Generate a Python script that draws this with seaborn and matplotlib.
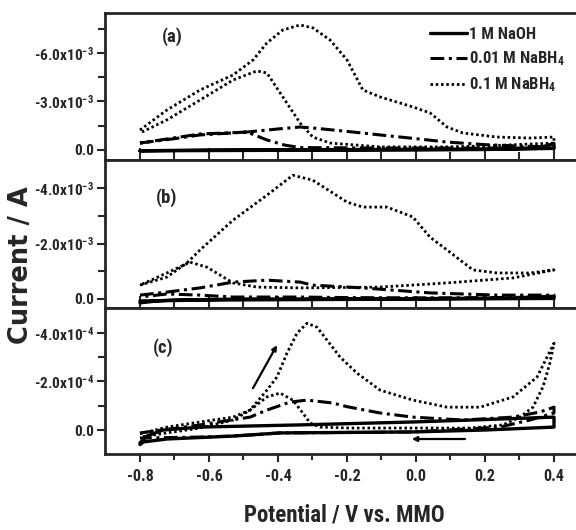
import numpy as np
import matplotlib
matplotlib.use("Agg")
import matplotlib.pyplot as plt
from matplotlib import font_manager as fm
from matplotlib.ticker import FixedLocator
import seaborn as sns

# ── Setup ──────────────────────────────────────────────────────────────────────
sns.set_style("ticks")

# the original uses a narrow bold sans; take one if the machine has it
names = {f.name for f in fm.fontManager.ttflist}
narrow = next((n for n in ["Liberation Sans Narrow", "Arial Narrow", "Roboto Condensed",
                           "Open Sans Condensed", "Noto Sans Condensed", "DejaVu Sans Condensed"]
               if n in names), None)
stretch = "normal"
if narrow is None:
    cond = [f for f in fm.fontManager.ttflist
            if f.stretch in ("condensed", "semi-condensed", "extra-condensed")]
    if cond:
        narrow = cond[0].name
        stretch = cond[0].stretch
base = narrow if narrow else "Liberation Sans"
tick_fs = 11 if narrow else 9.5

plt.rcParams["font.family"] = [base, "Liberation Sans", "DejaVu Sans"]
plt.rcParams["font.stretch"] = stretch
plt.rcParams["font.weight"] = "bold"
plt.rcParams["mathtext.fontset"] = "custom"
plt.rcParams["mathtext.bf"] = base + ":bold"
plt.rcParams["mathtext.rm"] = base + ":bold"
plt.rcParams["mathtext.default"] = "bf"

# ── Data (potential in V vs. MMO, current scaled per panel) ────────────────────
labels = ["1 M NaOH", "0.01 M NaBH$_4$", "0.1 M NaBH$_4$"]

# panel (a), current in 1e-3 A
a_naoh_E = [-0.8, -0.6, -0.3, 0.0, 0.2, 0.35, 0.4, 0.4, 0.2, 0.0, -0.4, -0.8]
a_naoh_I = [0.05, 0.0, -0.02, -0.04, -0.06, -0.1, -0.4, -0.1, -0.03, 0.0, 0.02, 0.05]
a_b01_E = [-0.8, -0.7, -0.626, -0.49, -0.40, -0.336, -0.299, -0.2, -0.104, 0.0, 0.09, 0.2, 0.3, 0.4,
           0.4, 0.3, 0.09, -0.1, -0.336, -0.38, -0.432, -0.49, -0.55, -0.626, -0.7, -0.8]
a_b01_I = [-0.43, -0.70, -0.93, -1.11, -1.30, -1.42, -1.36, -1.15, -0.93, -0.70, -0.49, -0.33, -0.24, -0.19,
           -0.12, -0.12, -0.12, -0.12, -0.15, -0.30, -0.62, -1.11, -1.05, -0.99, -0.75, -0.43]
a_b1_E = [-0.8, -0.722, -0.626, -0.53, -0.472, -0.432, -0.386, -0.336, -0.299, -0.249, -0.2, -0.154,
          -0.104, -0.009, 0.041, 0.09, 0.136, 0.235, 0.33, 0.4,
          0.4, 0.2, 0.09, -0.104, -0.249, -0.299, -0.336, -0.386, -0.432, -0.461, -0.53, -0.626, -0.722, -0.8]
a_b1_I = [-1.24, -2.47, -3.71, -4.64, -5.57, -6.62, -7.42, -7.73, -7.55, -6.80, -5.57, -3.71,
          -3.28, -2.66, -2.29, -1.42, -1.05, -0.80, -0.74, -0.80,
          -0.43, -0.25, -0.19, -0.19, -0.43, -0.80, -1.67, -3.28, -4.76, -4.89, -4.33, -3.09, -1.86, -1.05]

# panel (b), current in 1e-3 A
b_naoh_E = [-0.8, -0.75, -0.704, -0.5, -0.2, 0.1, 0.3, 0.4, 0.4, 0.1, -0.3, -0.6, -0.8]
b_naoh_I = [0.14, 0.07, 0.04, 0.0, 0.0, -0.02, -0.04, -0.1, -0.02, 0.0, 0.02, 0.04, 0.07]
b_b01_E = [-0.8, -0.722, -0.626, -0.53, -0.432, -0.336, -0.299, -0.154, 0.041, 0.235, 0.4,
           0.4, 0.2, 0.04, -0.2, -0.336, -0.53, -0.626, -0.722, -0.8]
b_b01_I = [-0.14, -0.25, -0.40, -0.61, -0.68, -0.61, -0.50, -0.40, -0.22, -0.14, -0.14,
           -0.07, -0.05, -0.04, -0.05, -0.07, -0.07, -0.14, -0.18, -0.07]
b_b1_E = [-0.8, -0.722, -0.664, -0.626, -0.53, -0.432, -0.357, -0.299, -0.2, -0.154, -0.084, -0.009,
          0.041, 0.09, 0.165, 0.235, 0.33, 0.4,
          0.4, 0.281, 0.09, -0.104, -0.336, -0.461, -0.53, -0.606, -0.655, -0.722, -0.8]
b_b1_I = [-0.50, -0.79, -1.30, -1.77, -2.85, -3.75, -4.47, -4.29, -3.50, -3.32, -3.32, -2.96,
          -2.23, -1.77, -1.05, -0.94, -0.94, -1.05,
          -1.05, -0.76, -0.58, -0.43, -0.40, -0.43, -0.58, -1.15, -1.33, -0.94, -0.50]

# panel (c), current in 1e-4 A
c_naoh_E = [-0.8, -0.78, -0.733, -0.626, -0.336, -0.009, 0.2, 0.4,
            0.4, 0.2, -0.009, -0.394, -0.53, -0.722, -0.79, -0.8]
c_naoh_I = [0.53, 0.25, 0.0, -0.12, -0.21, -0.33, -0.43, -0.53,
            -0.12, 0.0, 0.08, 0.12, 0.25, 0.37, 0.49, 0.6]
c_b01_E = [-0.8, -0.626, -0.481, -0.432, -0.365, -0.316, -0.241, -0.2, -0.104, -0.009, 0.136, 0.281, 0.359, 0.4,
           0.4, 0.33, 0.243, -0.009, -0.394, -0.53, -0.626, -0.8]
c_b01_I = [0.12, -0.21, -0.53, -0.82, -1.15, -1.23, -1.11, -0.96, -0.70, -0.53, -0.41, -0.53, -0.74, -0.94,
           -0.70, -0.41, -0.12, 0.08, 0.12, 0.25, 0.29, 0.33]
c_b1_E = [-0.8, -0.722, -0.626, -0.53, -0.481, -0.432, -0.403, -0.374, -0.345, -0.316, -0.287, -0.258,
          -0.22, -0.171, -0.104, -0.009, 0.09, 0.186, 0.281, 0.351, 0.4,
          0.4, 0.388, 0.368, 0.339, 0.301, 0.252, 0.157, 0.012, -0.191, -0.278, -0.307, -0.328, -0.357,
          -0.394, -0.432, -0.481, -0.53, -0.626, -0.722, -0.8]
c_b1_I = [0.16, -0.12, -0.33, -0.53, -0.82, -1.64, -2.18, -3.16, -3.98, -4.39, -4.23, -3.70,
          -3.00, -2.34, -1.64, -1.23, -0.94, -0.94, -1.36, -2.18, -3.57,
          -3.57, -2.75, -1.77, -0.94, -0.53, -0.21, -0.08, -0.08, -0.08, -0.12, -0.29, -0.70, -1.23,
          -1.52, -1.36, -0.82, -0.41, -0.08, 0.12, 0.29]

# scan direction arrows in panel (c): (start E, start I, end E, end I), I in 1e-4 A
arrow_up = [-0.4725, -1.72, -0.403, -3.49]
arrow_back = [0.142, 0.37, -0.012, 0.37]

panels = [
    dict(tag="(a)", scale=1e-3, exp=-3, curves=[(a_naoh_E, a_naoh_I), (a_b01_E, a_b01_I), (a_b1_E, a_b1_I)],
         ylim=(0.619, -8.47), major=[0.0, -3.0, -6.0], minor=[-1.5, -4.5, -7.5], tagpos=(-0.707, -6.99)),
    dict(tag="(b)", scale=1e-3, exp=-3, curves=[(b_naoh_E, b_naoh_I), (b_b01_E, b_b01_I), (b_b1_E, b_b1_I)],
         ylim=(0.325, -5.02), major=[0.0, -2.0, -4.0], minor=[-1.0, -3.0], tagpos=(-0.722, -3.68)),
    dict(tag="(c)", scale=1e-4, exp=-4, curves=[(c_naoh_E, c_naoh_I), (c_b01_E, c_b01_I), (c_b1_E, c_b1_I)],
         ylim=(0.987, -5.02), major=[0.0, -2.0, -4.0], minor=[-1.0, -3.0], tagpos=(-0.733, -3.37)),
]

styles = [dict(linestyle="-", linewidth=2.4),
          dict(linestyle=(0, (4.5, 1.5, 1, 1.5)), linewidth=2.2),
          dict(linestyle=(0, (0.9, 1.0)), linewidth=2.0)]

# ── Figure ─────────────────────────────────────────────────────────────────────
fig = plt.figure(figsize=(5.76, 5.30), dpi=100)
left = 105 / 576
boxes = [(0.6981, 0.2774), (0.4189, 0.2792), (0.1434, 0.2755)]

for k, (p, (b0, h)) in enumerate(zip(panels, boxes)):
    ax = fig.add_axes([left, b0, 1 - left, h])
    for (E, I), st, lab in zip(p["curves"], styles, labels):
        sns.lineplot(x=np.array(E), y=np.array(I) * p["scale"], sort=False, estimator=None,
                     ax=ax, color="black", label=lab if k == 0 else None, **st)

    ax.set_xlim(-0.9014, 0.4638)
    ax.set_ylim(p["ylim"][0] * p["scale"], p["ylim"][1] * p["scale"])
    ax.xaxis.set_major_locator(FixedLocator([-0.8, -0.6, -0.4, -0.2, 0.0, 0.2, 0.4]))
    ax.xaxis.set_minor_locator(FixedLocator([-0.7, -0.5, -0.3, -0.1, 0.1, 0.3]))
    ax.yaxis.set_major_locator(FixedLocator([v * p["scale"] for v in p["major"]]))
    ax.yaxis.set_minor_locator(FixedLocator([v * p["scale"] for v in p["minor"]]))
    ylabels = ["0.0" if v == 0 else "%.1fx10$^{%d}$" % (v, p["exp"]) for v in p["major"]]
    ax.set_yticklabels(ylabels)

    for s in ["top", "bottom", "left"]:
        ax.spines[s].set_linewidth(2)
    ax.spines["right"].set_visible(False)
    ax.tick_params(axis="y", which="major", direction="out", length=6, width=1.5, pad=2, labelsize=tick_fs)
    ax.tick_params(axis="y", which="minor", direction="out", length=5, width=1.5)
    if k < 2:
        ax.tick_params(axis="x", which="major", direction="in", length=9, width=1.5, labelbottom=False)
        ax.tick_params(axis="x", which="minor", direction="in", length=6, width=1.5)
    else:
        ax.tick_params(axis="x", which="major", direction="out", length=6, width=1.5, pad=5,
                       labelsize=tick_fs + 0.5)
        ax.tick_params(axis="x", which="minor", direction="out", length=4, width=1.5)
        ax.set_xticklabels(["-0.8", "-0.6", "-0.4", "-0.2", "0.0", "0.2", "0.4"])
    ax.set_xlabel("")
    ax.set_ylabel("")

    ax.text(p["tagpos"][0], p["tagpos"][1] * p["scale"], p["tag"], fontsize=13.5,
            fontweight="bold", ha="center", va="center")

    if k == 0:
        ax.legend(loc="upper left", bbox_to_anchor=(0.665, 0.985), frameon=False,
                  fontsize=12 if narrow else 10.5, handlelength=2.2, handletextpad=0.15,
                  labelspacing=0.45, borderpad=0.2)
    if k == 2:
        for arr in (arrow_up, arrow_back):
            ax.annotate("", xy=(arr[2], arr[3] * p["scale"]), xytext=(arr[0], arr[1] * p["scale"]),
                        arrowprops=dict(arrowstyle="-|>", lw=1.6, color="black", mutation_scale=7,
                                        shrinkA=0, shrinkB=0))

fig.text(344 / 576, 1 - 515 / 530, "Potential / V vs. MMO", fontsize=16.5 if narrow else 14,
         fontweight="bold", ha="center", va="center")
fig.text(21 / 576, 1 - 265 / 530, "Current / A", fontsize=18.5, fontweight="bold", rotation=90,
         ha="center", va="center", family=["DejaVu Sans"], stretch="normal")

fig.savefig("out.png", dpi=100)
